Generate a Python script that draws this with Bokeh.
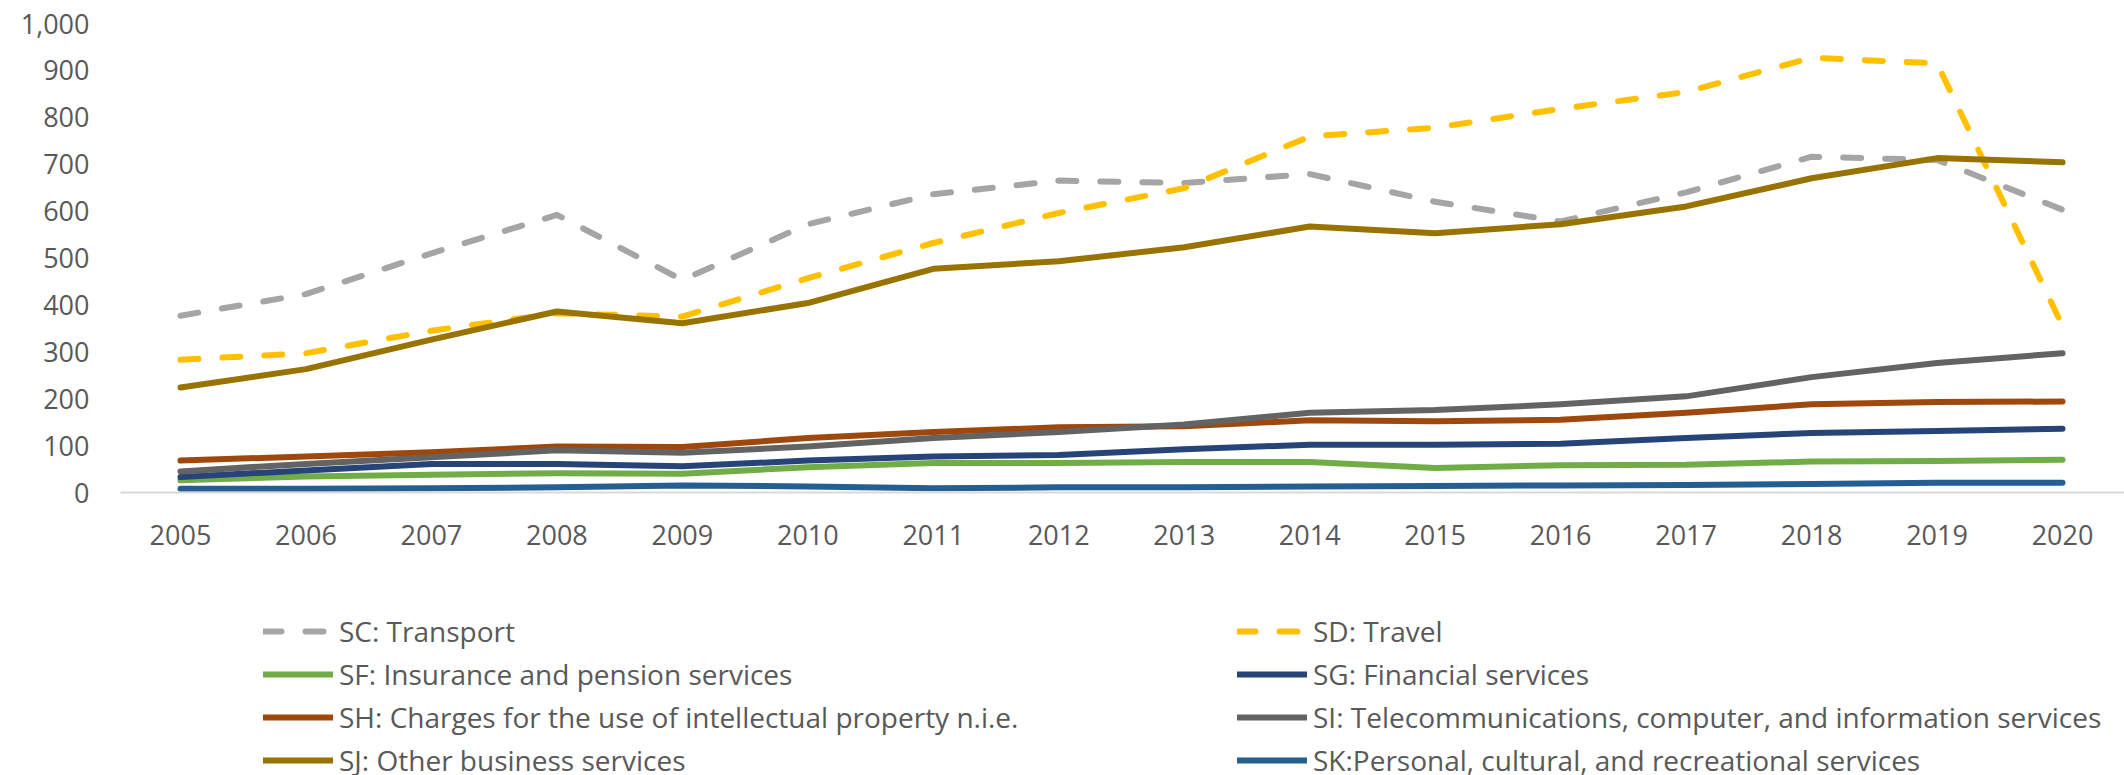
from bokeh.plotting import figure
from bokeh.layouts import column
from bokeh.models import Range1d, FixedTicker, NumeralTickFormatter, Legend, LegendItem
from bokeh.embed import file_html
from bokeh.resources import INLINE

years = [2005, 2006, 2007, 2008, 2009, 2010, 2011, 2012, 2013, 2014, 2015, 2016, 2017, 2018, 2019, 2020]

sc_transport = [377, 423, 510, 592, 453, 572, 636, 665, 660, 679, 620, 578, 640, 716, 709, 603]
sd_travel = [283, 297, 345, 382, 375, 457, 532, 596, 649, 759, 778, 818, 854, 927, 915, 355]
sf_insurance = [26, 34, 38, 41, 40, 54, 63, 63, 65, 65, 52, 58, 59, 66, 67, 70]
sg_financial = [33, 47, 61, 61, 56, 68, 77, 80, 92, 102, 102, 104, 116, 127, 131, 136]
sh_ip = [68, 77, 86, 98, 97, 116, 129, 139, 141, 154, 152, 155, 170, 188, 193, 194]
si_telecom = [45, 61, 75, 90, 85, 98, 116, 129, 145, 170, 176, 188, 205, 246, 276, 297]
sj_other = [224, 263, 326, 386, 361, 404, 477, 493, 523, 567, 553, 572, 610, 670, 713, 704]
sk_personal = [8, 8, 9, 11, 15, 13, 9, 11, 11, 13, 14, 15, 16, 18, 21, 21]

series = [
    ("SC: Transport", sc_transport, "#A5A5A5", True),
    ("SD: Travel", sd_travel, "#FFC000", True),
    ("SF: Insurance and pension services", sf_insurance, "#70AD47", False),
    ("SG: Financial services", sg_financial, "#264478", False),
    ("SH: Charges for the use of intellectual property n.i.e.", sh_ip, "#9E480E", False),
    ("SI: Telecommunications, computer, and information services", si_telecom, "#636363", False),
    ("SJ: Other business services", sj_other, "#997300", False),
    ("SK:Personal, cultural, and recreational services", sk_personal, "#255E91", False),
]

FONT = "Open Sans"
TXT = "#595959"
FS = "27px"
LFS = "28px"

p = figure(width=2124, height=560, output_backend="svg", toolbar_location=None,
           x_range=Range1d(2004.522, 2020.494), y_range=Range1d(0, 1032),
           min_border_left=120, min_border_right=0, min_border_top=8, min_border_bottom=68)
p.outline_line_color = None
p.xgrid.visible = False
p.ygrid.visible = False

p.yaxis.ticker = FixedTicker(ticks=[0, 100, 200, 300, 400, 500, 600, 700, 800, 900, 1000])
p.yaxis.formatter = NumeralTickFormatter(format="0,0")
p.yaxis.axis_line_color = None
p.yaxis.major_tick_line_color = None
p.yaxis.minor_tick_line_color = None
p.yaxis.major_label_standoff = 25
p.yaxis.major_label_text_font = FONT
p.yaxis.major_label_text_font_size = FS
p.yaxis.major_label_text_color = TXT

p.xaxis.ticker = FixedTicker(ticks=years)
p.xaxis.major_label_overrides = {y: str(y) for y in years}
p.xaxis.axis_line_color = "#D9D9D9"
p.xaxis.axis_line_width = 2
p.xaxis.major_tick_line_color = None
p.xaxis.minor_tick_line_color = None
p.xaxis.major_label_standoff = 26
p.xaxis.major_label_text_font = FONT
p.xaxis.major_label_text_font_size = FS
p.xaxis.major_label_text_color = TXT

# legend panel below the chart (its frame is aligned with the chart's frame)
lg_fig = figure(width=2124, height=215, output_backend="svg", toolbar_location=None,
                x_range=Range1d(0, 1), y_range=Range1d(0, 1),
                min_border_left=0, min_border_right=0, min_border_top=0, min_border_bottom=0)
lg_fig.outline_line_color = None
lg_fig.axis.visible = False
lg_fig.grid.visible = False

items = []
for name, vals, col, dashed in series:
    kw = dict(line_color=col, line_width=6, line_join="round", line_cap="round")
    if dashed:
        kw["line_dash"] = "18 24"
    p.line(years, vals, **kw)
    r = lg_fig.line(years, vals, **kw)  # out of view: only drives the legend swatch
    items.append(LegendItem(label=name, renderers=[r]))

left_items = [items[0], items[2], items[4], items[6]]
right_items = [items[1], items[3], items[5], items[7]]

for its, xloc in ((left_items, 143), (right_items, 1117)):
    lg = Legend(items=its, location=(xloc, -4), orientation="vertical",
                label_text_font=FONT, label_text_font_size=LFS, label_text_color=TXT,
                glyph_width=70, glyph_height=20, label_standoff=6, spacing=5,
                padding=0, margin=0, border_line_color=None, background_fill_alpha=0,
                label_height=20)
    lg_fig.add_layout(lg, "center")

layout = column(p, lg_fig, spacing=0)
open("out.html", "w").write(file_html(layout, INLINE))
